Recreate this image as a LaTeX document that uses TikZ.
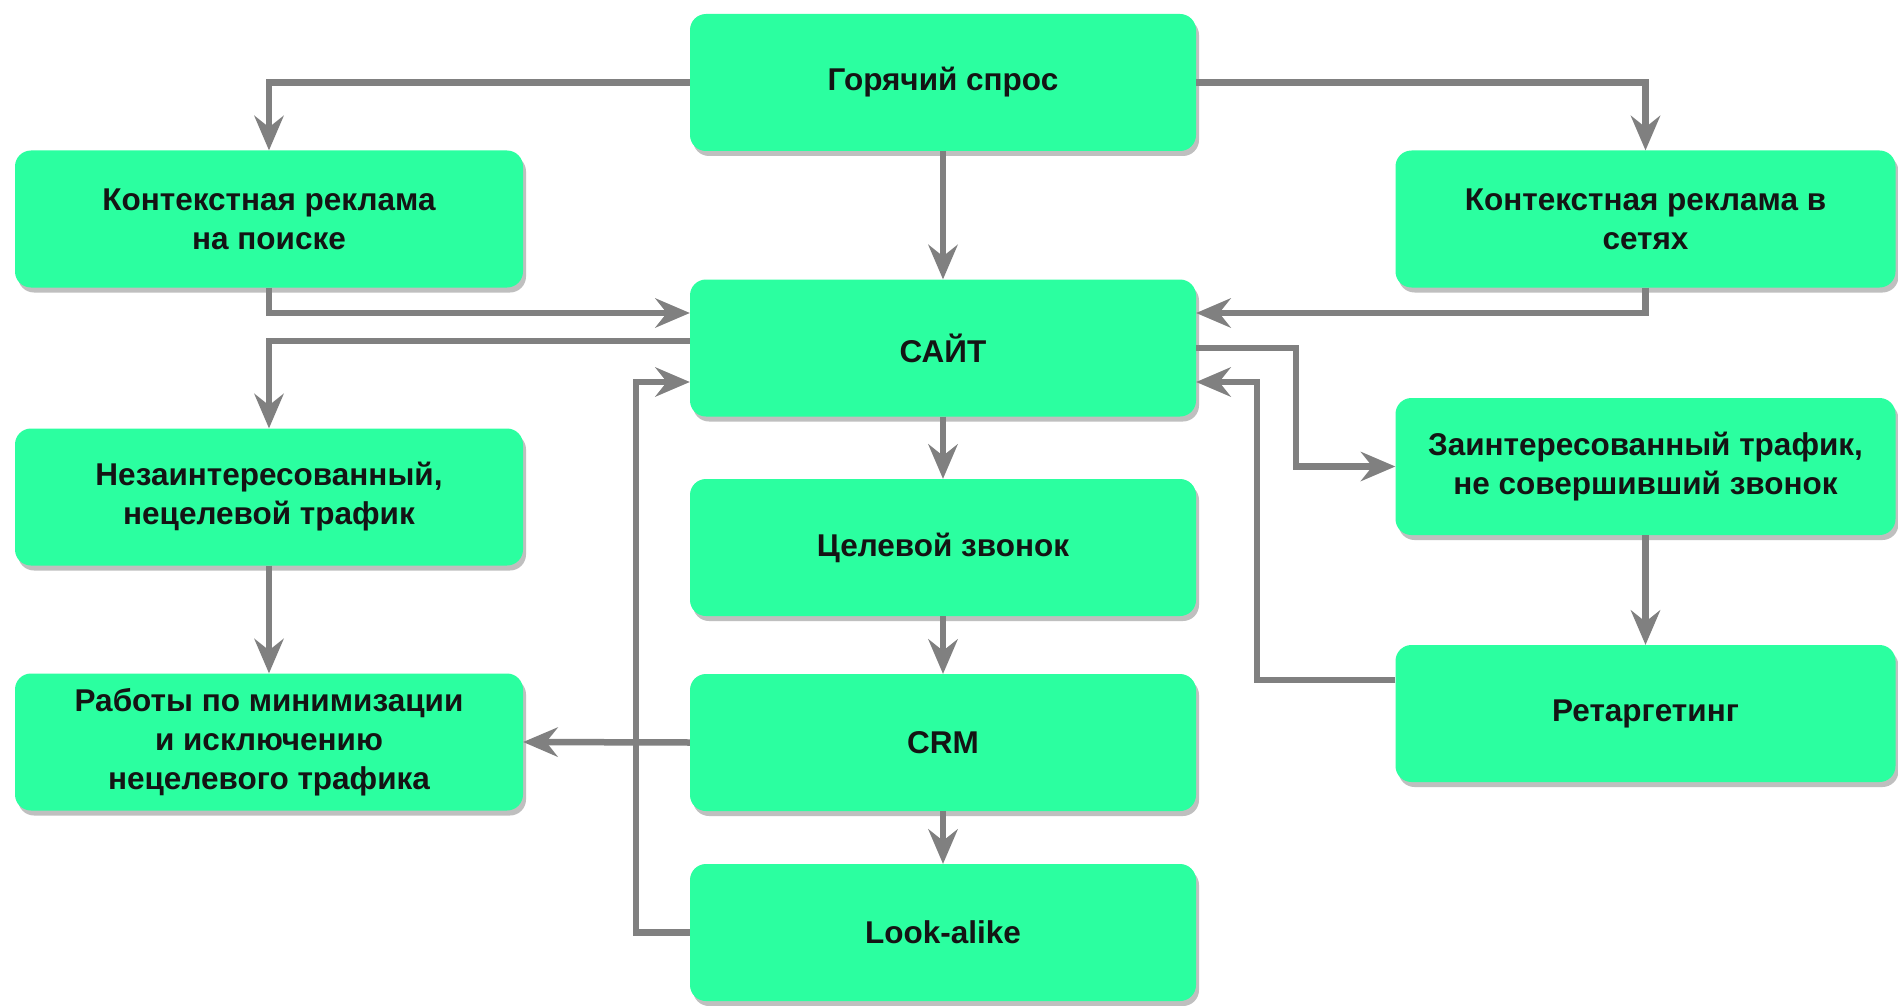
\documentclass[tikz,border=0pt]{standalone}
\usepackage{fontspec}
\setmainfont{Liberation Sans}
\usetikzlibrary{arrows.meta,shadows}
\definecolor{boxgreen}{RGB}{43,255,160}
\definecolor{lineg}{RGB}{128,128,128}
\begin{document}
\begin{tikzpicture}[x=1pt,y=-1pt,
  box/.style={draw=none, fill=boxgreen, rounded corners=16pt, minimum width=#1,
    minimum height=137pt, inner sep=0pt, align=center,
    font=\fontsize{31.5}{39}\selectfont\bfseries, text=black!92,
    drop shadow={shadow xshift=3pt, shadow yshift=-5pt, fill=black!45, opacity=0.55}},
  box/.default=506pt,
  conn/.style={draw=lineg, line width=6.5pt,
    -{Stealth[length=35pt,width=30pt,inset=12pt,line width=0pt]}}]
\useasboundingbox (0,0) rectangle (1898,1006);
\fill[white] (0,0) rectangle (1898,1006);

\node[box] (hot) at (943,82.5) {Горячий спрос};
\node[box=508pt] (search) at (269,219) {Контекстная реклама\\на поиске};
\node[box=500pt] (nets) at (1645.5,219) {Контекстная реклама в\\сетях};
\node[box] (site) at (943,348) {САЙТ};
\node[box=508pt] (nonint) at (269,497) {Незаинтересованный,\\нецелевой трафик};
\node[box] (call) at (943,547.5) {Целевой звонок};
\node[box=500pt] (int) at (1645.5,466.5) {Заинтересованный трафик,\\не совершивший звонок};
\node[box=508pt] (works) at (269,742) {Работы по минимизации\\и исключению\\нецелевого трафика};
\node[box] (crm) at (943,742.5) {CRM};
\node[box=500pt] (retarg) at (1645.5,713.5) {Ретаргетинг};
\node[box] (look) at (943,932.5) {Look-alike};

\coordinate (lk) at (636,382);
\coordinate (c1) at (1296,348);
\coordinate (c2) at (1257,382);

\draw[conn] (hot.west) -| (search.north);
\draw[conn] (hot.east) -| (nets.north);
\draw[conn] (hot.south) -- (site.north);
\draw[conn] (search.south) |- (site.west |- 0,313);
\draw[conn] (nets.south) |- (site.east |- 0,313);
\draw[conn] (site.west |- 0,341) -| (nonint.north);
\draw[conn] (look.west) -| (lk) -- (site.west |- lk);
\draw[conn] (site.east) -- (c1) |- (int.west);
\draw[conn] (retarg.west |- 0,680) -| (c2) -- (site.east |- c2);
\draw[conn] (site.south) -- (call.north);
\draw[conn] (call.south) -- (crm.north);
\draw[conn] (crm.south) -- (look.north);
\draw[conn] (crm.west) -- (works.east);
\draw[conn] (nonint.south) -- (works.north);
\draw[conn] (int.south) -- (retarg.north);
\end{tikzpicture}
\end{document}
